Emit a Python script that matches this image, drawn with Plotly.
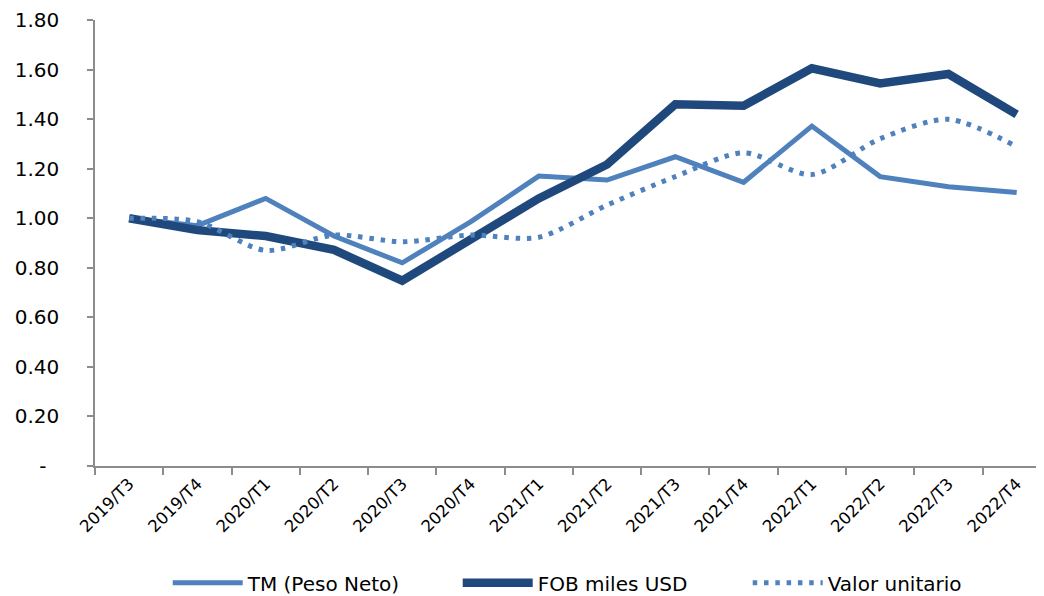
import plotly.graph_objects as go

categories = ["2019/T3", "2019/T4", "2020/T1", "2020/T2", "2020/T3", "2020/T4",
              "2021/T1", "2021/T2", "2021/T3", "2021/T4", "2022/T1", "2022/T2",
              "2022/T3", "2022/T4"]
tm_peso_neto = [1.00, 0.97, 1.08, 0.928, 0.82, 0.985, 1.17, 1.154, 1.248, 1.145, 1.372, 1.168, 1.127, 1.104]
fob_miles_usd = [1.00, 0.952, 0.928, 0.872, 0.748, 0.912, 1.08, 1.217, 1.46, 1.454, 1.605, 1.544, 1.582, 1.419]
valor_unitario = [1.00, 0.986, 0.87, 0.932, 0.905, 0.932, 0.923, 1.053, 1.168, 1.264, 1.176, 1.321, 1.399, 1.289]

y_tickvals = [0, 0.2, 0.4, 0.6, 0.8, 1.0, 1.2, 1.4, 1.6, 1.8]
y_ticktext = ["-\u00a0\u00a0", "0.20", "0.40", "0.60", "0.80", "1.00", "1.20", "1.40", "1.60", "1.80"]

C_TM = "#4F81BD"
C_FOB = "#1F497D"
FONT = "DejaVu Sans"

fig = go.Figure()
fig.add_trace(go.Scatter(x=categories, y=tm_peso_neto, name="TM (Peso Neto)", mode="lines",
                         line=dict(color=C_TM, width=5)))
fig.add_trace(go.Scatter(x=categories, y=fob_miles_usd, name="FOB miles USD", mode="lines",
                         line=dict(color=C_FOB, width=8.5)))
fig.add_trace(go.Scatter(x=categories, y=valor_unitario, name="Valor unitario", mode="lines",
                         line=dict(color=C_TM, width=5, dash="4.5px,6.8px", shape="spline", smoothing=0.8)))

axis_color = "#8C8C8C"
# page body has an 8px margin; figure sized so it fits the 1044x596 window
fig.update_layout(
    width=1036, height=588,
    margin=dict(l=87, r=0, t=12, b=130, autoexpand=False),
    paper_bgcolor="white", plot_bgcolor="white",
    font=dict(family=FONT, color="#000000"),
    showlegend=True,
    legend=dict(orientation="h", x=0.535, xanchor="center", y=-0.262, yanchor="middle",
                font=dict(size=20, family=FONT), itemwidth=70, entrywidth=205,
                traceorder="normal"),
    xaxis=dict(type="category", range=[-0.5, 13.4], autorange=False, tickson="boundaries",
               showline=True, linecolor=axis_color, linewidth=1.5, automargin=False,
               ticks="outside", ticklen=7, tickcolor=axis_color, tickwidth=1.5,
               tickangle=-45, tickfont=dict(size=16.5, family=FONT), showgrid=False,
               zeroline=False),
    yaxis=dict(range=[0, 1.8], autorange=False, tickvals=y_tickvals, ticktext=y_ticktext,
               showline=True, linecolor=axis_color, linewidth=1.5, automargin=False,
               ticks="outside", ticklen=6, tickcolor=axis_color, tickwidth=1.5,
               tickfont=dict(size=20, family=FONT), showgrid=False, zeroline=False,
               ticklabelstandoff=24),
)

fig.write_html("out.html")
